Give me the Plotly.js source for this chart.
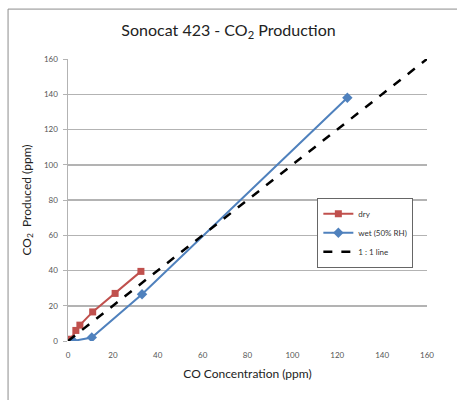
<!DOCTYPE html>
<html>
<head>
<meta charset="utf-8">
<script src="https://cdn.plot.ly/plotly-3.0.1.min.js"></script>
<style>html,body{margin:0;padding:0;background:#fff;}#chart{width:457px;height:400px;}</style>
</head>
<body>
<div id="chart"></div>
<script>
const dryX = [1, 3.5, 5.3, 11, 21, 32.5];
const dryY = [1, 6, 9, 16.5, 27, 39.5];
const wetX = [2.3, 10.6, 33, 124.5];
const wetY = [0, 2, 26.5, 138];
const lineX = [0, 160];
const lineY = [0, 160];
const tickVals = [0, 20, 40, 60, 80, 100, 120, 140, 160];
const tickText = ['0', '20', '40', '60', '80', '100', '120', '140', '160'];

const traces = [
  {x: dryX, y: dryY, name: 'dry', type: 'scatter', mode: 'lines+markers',
   line: {color: '#C0504D', width: 2}, marker: {symbol: 'square', size: 7, color: '#C0504D'}},
  {x: wetX, y: wetY, name: 'wet (50% RH)', type: 'scatter', mode: 'lines+markers',
   line: {color: '#4F81BD', width: 2}, marker: {symbol: 'diamond', size: 8, color: '#4F81BD'}},
  {x: lineX, y: lineY, name: '1 : 1 line', type: 'scatter', mode: 'lines',
   line: {color: '#000000', width: 2.5, dash: 'dash'}}
];

const layout = {
  width: 457, height: 400,
  margin: {l: 68, r: 30, t: 59, b: 59},
  paper_bgcolor: '#fff', plot_bgcolor: '#fff',
  font: {family: 'Lato, "Open Sans", sans-serif', color: '#404040'},
  title: {text: 'Sonocat 423 - CO<sub>2</sub> Production', x: 0.5, xanchor: 'center', y: 0.925, yanchor: 'middle',
          font: {size: 16, color: '#222', family: 'Lato, "Open Sans", sans-serif'}},
  xaxis: {range: [0, 160], tickvals: tickVals, ticktext: tickText, showgrid: false, zeroline: false,
          showline: false, ticks: '', tickfont: {size: 8, color: '#555'}, ticklabelstandoff: 8,
          title: {text: 'CO Concentration (ppm)', font: {size: 12, color: '#222'}, standoff: 10}},
  yaxis: {range: [0, 160], tickvals: tickVals, ticktext: tickText, showgrid: true, gridcolor: '#B3B3B3', gridwidth: 1.5,
          zeroline: false, showline: true, linecolor: '#B3B3B3', linewidth: 1.5, ticks: 'outside', ticklen: 4, tickcolor: '#B3B3B3',
          tickfont: {size: 8, color: '#555'}, ticklabelstandoff: 3,
          title: {text: 'CO<sub>2</sub>  Produced (ppm)', font: {size: 12, color: '#222'}, standoff: 10}},
  legend: {x: 0.694, y: 0.507, xanchor: 'left', yanchor: 'top', bgcolor: '#fff', bordercolor: '#666', borderwidth: 1.2,
           font: {size: 8, color: '#333'}, tracegroupgap: 2, itemwidth: 30},
  showlegend: true,
  shapes: [
    {type: 'rect', xref: 'paper', yref: 'paper', x0: -0.167, x1: 1.2, y0: -0.3, y1: 1.177,
     line: {color: '#8c8c8c', width: 1}, fillcolor: 'rgba(0,0,0,0)', layer: 'below'}
  ]
};

Plotly.newPlot('chart', traces, layout, {displayModeBar: false, staticPlot: true});
</script>
</body>
</html>
